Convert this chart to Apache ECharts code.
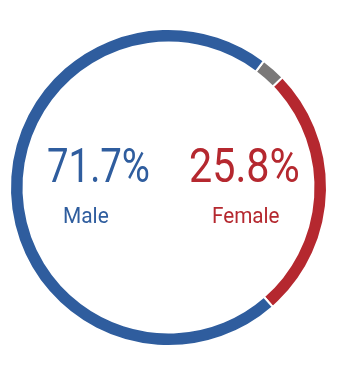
<!DOCTYPE html>
<html><head><meta charset="utf-8">
<script src="https://cdn.jsdelivr.net/npm/echarts@6/dist/echarts.min.js"></script>
<style>html,body{margin:0;padding:0;background:#fff}#c{width:338px;height:375px}</style>
</head><body><div id="c"></div>
<script>
const categories = ['Other', 'Female', 'Male'];
const values = [2.5, 25.8, 71.7];
const colors = ['#7a7878', '#b5282f', '#2f5d9e'];

const chart = echarts.init(document.getElementById('c'));
const font = 'Roboto, sans-serif';
function txt(text, x, y, size, sx, color) {
  return { type: 'text', x: x, y: y, scaleX: sx, style: { text: text, fontFamily: font, fontSize: size, fontWeight: 400, fill: color, align: 'left', verticalAlign: 'top' } };
}
chart.setOption({
  animation: false,
  series: [{
    type: 'pie',
    silent: true,
    center: [168.5, 187.5],
    radius: [145, 158.5],
    startAngle: 53,
    clockwise: true,
    label: { show: false },
    labelLine: { show: false },
    itemStyle: { borderColor: '#fff', borderWidth: 2 },
    data: categories.map((c, i) => ({ name: c, value: values[i], itemStyle: { color: colors[i] } }))
  }],
  graphic: [
    txt(values[2].toFixed(1) + '%', 47, 146, 48, 0.8, colors[2]),
    txt(categories[2], 63, 206, 22, 0.95, colors[2]),
    txt(values[1].toFixed(1) + '%', 189, 146, 48, 0.86, colors[1]),
    txt(categories[1], 212, 206, 22, 0.94, colors[1])
  ]
});
</script></body></html>
